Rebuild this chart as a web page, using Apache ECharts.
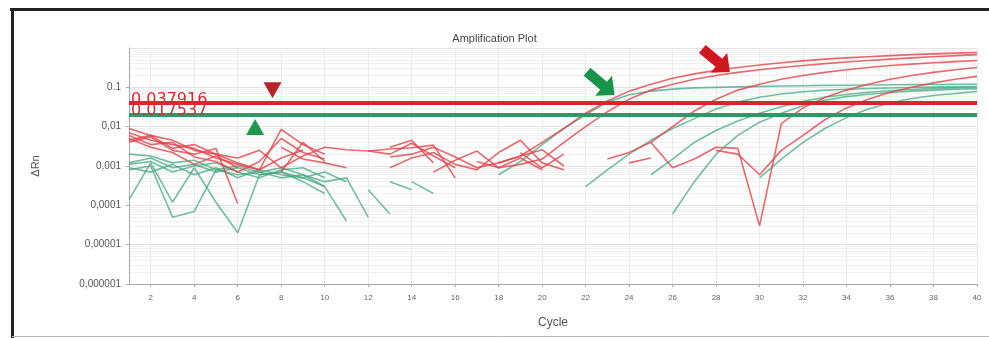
<!DOCTYPE html>
<html>
<head>
<meta charset="utf-8">
<script src="https://cdn.jsdelivr.net/npm/echarts@6/dist/echarts.min.js"></script>
<style>
  html, body { margin: 0; padding: 0; background: #fff; }
  #chart { width: 989px; height: 338px; }
</style>
</head>
<body>
<div id="chart"></div>
<script>
// 数据
var cycles = [1,2,3,4,5,6,7,8,9,10,11,12,13,14,15,16,17,18,19,20,
              21,22,23,24,25,26,27,28,29,30,31,32,33,34,35,36,37,38,39,40];
var xTickValues = [2,4,6,8,10,12,14,16,18,20,22,24,26,28,30,32,34,36,38,40];
var yTickLabels = ['0,000001','0,00001','0,0001','0,001','0,01','0.1',''];

var thresholdRed = 0.037916;
var thresholdGreen = 0.017537;

// 红色样本
var red1 = [0.007,0.0045,0.0035,0.0028,0.0016,0.0011,0.0008,0.0016,0.0025,null,
            null,0.0024,0.0027,0.0029,0.0034,0.0005,null,0.0012,0.0018,0.004,
            0.009,0.022,0.045,0.08,0.12,0.17,0.22,0.27,0.32,0.37,
            0.42,0.47,0.52,0.56,0.6,0.64,0.68,0.71,0.74,0.77];
var red2 = [0.004,0.0055,0.0025,0.002,0.0028,0.00011,null,0.003,0.0015,0.0012,
            0.0009,null,0.003,0.0045,0.0012,null,0.0013,0.0009,0.0011,0.0015,
            0.004,0.01,0.024,0.05,0.085,0.12,0.16,0.2,0.24,0.28,
            0.32,0.36,0.4,0.44,0.48,0.52,0.56,0.6,0.64,0.68];
var red3 = [0.005,0.003,0.0022,0.0011,0.0018,0.0009,null,0.0007,0.004,0.0013,
            null,null,0.0017,0.002,0.003,0.0017,0.0009,0.0012,0.0018,0.0026,
            0.001,null,0.0015,0.0022,0.004,0.01,0.025,0.05,0.085,0.12,
            0.16,0.2,0.24,0.28,0.32,0.36,0.39,0.42,0.45,0.48];
var red4 = [0.006,0.0035,0.004,0.0017,0.0013,0.0007,0.0013,0.005,0.0022,0.0015,
            null,null,null,null,0.0007,0.0014,0.0024,0.0009,0.0016,0.0008,
            null,null,null,null,0.004,0.0009,0.0015,0.003,0.0028,0.00003,
            0.012,0.03,0.055,0.085,0.12,0.16,0.2,0.24,0.28,0.32];
var red5 = [0.0045,0.006,0.0028,0.0035,0.002,0.0016,0.0025,0.0009,0.0018,0.003,
            0.0026,0.0024,0.002,0.0038,0.0018,0.0009,null,null,0.0022,0.0009,
            0.002,null,null,0.0012,0.0016,null,null,0.0025,0.002,0.0006,
            0.0025,0.006,0.015,0.03,0.05,0.075,0.1,0.13,0.16,0.19];
var red6 = [0.009,0.006,0.0045,0.0025,0.002,0.0012,0.0008,0.0085,0.0035,0.002,
            null,null,0.0009,0.0016,0.0022,0.0011,0.0008,0.0022,0.0045,0.0012,
            0.0008,null,null,null,null,null,null,null,null,null,
            null,null,null,null,null,null,null,null,null,null];

// 绿色样本
var green1 = [0.0012,0.0016,0.0009,0.0011,0.0007,0.0009,0.0006,0.0007,0.0005,0.0003,
              0.00004,null,null,null,null,null,null,0.0006,0.0013,0.0035,
              0.009,0.02,0.042,0.065,0.08,0.09,0.097,0.1,0.103,0.106,
              0.108,0.11,0.112,0.113,0.115,0.116,0.117,0.118,0.119,0.12];
var green2 = [0.002,0.0018,0.0012,0.0014,0.0008,0.001,0.0007,0.0009,0.0006,0.0004,
              0.0005,0.00005,null,null,null,null,null,null,null,null,
              null,0.0003,0.0008,0.002,0.0045,0.009,0.016,0.028,0.042,0.056,
              0.068,0.077,0.084,0.089,0.093,0.096,0.099,0.101,0.103,0.105];
var green3 = [0.00014,0.0012,0.00012,0.0009,0.00012,0.00002,0.0006,0.0007,0.0004,0.0002,
              null,0.00025,0.00006,null,null,null,null,null,null,null,
              null,null,null,null,null,0.00006,0.0004,0.002,0.006,0.013,
              0.022,0.034,0.047,0.058,0.067,0.074,0.08,0.085,0.089,0.092];
var green4 = [0.0008,0.001,0.00005,0.00007,0.0008,0.0006,0.0007,0.0005,0.0006,0.0003,
              null,null,0.0004,0.00025,null,null,null,null,null,null,
              null,null,null,null,null,null,null,null,null,0.0005,
              0.0015,0.004,0.009,0.017,0.028,0.04,0.052,0.062,0.07,0.078];
var green5 = [0.0011,0.0013,0.0007,0.001,0.0012,0.0007,0.0005,0.0008,0.0009,0.0005,
              null,null,null,0.0004,0.0002,null,null,null,null,null,
              null,null,null,null,0.0006,0.0015,0.004,0.008,0.014,0.022,
              0.032,0.044,0.056,0.066,0.075,0.082,0.088,0.093,0.097,0.1];
var green6 = [0.0009,0.0007,0.0011,0.0006,0.0009,0.0005,0.0008,0.0006,0.0005,0.0007,
              0.0004,null,null,null,null,null,null,null,null,null,
              null,null,null,null,null,null,null,null,null,null,
              null,null,null,null,null,null,null,null,null,null];

var redSamples = [red1, red2, red3, red4, red5, red6];
var greenSamples = [green1, green2, green3, green4, green5, green6];

var RED = '#e2424a';
var GREEN = '#44a882';

function toPairs(values) {
    return cycles.map(function (c, i) {
        return [c, values[i]];
    });
}

var series = [];
greenSamples.forEach(function (vals, i) {
    series.push({
        name: 'green' + (i + 1),
        type: 'line',
        data: toPairs(vals),
        symbol: 'none',
        connectNulls: false,
        lineStyle: { color: GREEN, width: 1.6, opacity: 0.75 },
        z: 2
    });
});
redSamples.forEach(function (vals, i) {
    series.push({
        name: 'red' + (i + 1),
        type: 'line',
        data: toPairs(vals),
        symbol: 'none',
        connectNulls: false,
        lineStyle: { color: RED, width: 1.6, opacity: 0.8 },
        z: 3
    });
});

// 阈值线 + 标记
var arrowPath = 'path://M0,3 L6,3 L6,0 L10,5 L6,10 L6,7 L0,7 Z';
series.push({
    name: 'threshold',
    type: 'line',
    data: [],
    z: 5,
    markLine: {
        silent: true,
        symbol: 'none',
        animation: false,
        data: [
            {
                yAxis: thresholdRed,
                lineStyle: { color: '#d8262c', width: 4, type: 'solid', opacity: 1 },
                label: {
                    show: true, position: 'insideStartTop', distance: [2, -5],
                    formatter: '0.037916', color: '#e0262c',
                    fontSize: 16, fontFamily: 'DejaVu Sans'
                }
            },
            {
                yAxis: thresholdGreen,
                lineStyle: { color: '#2a9a66', width: 4, type: 'solid', opacity: 1 },
                label: {
                    show: true, position: 'insideStartTop', distance: [2, -4],
                    formatter: '0.017537', color: '#c8333a',
                    fontSize: 16, fontFamily: 'DejaVu Sans'
                }
            }
        ]
    },
    markPoint: {
        silent: true,
        animation: false,
        label: { show: false },
        data: [
            { coord: [7.6, 0.084], symbol: 'triangle', symbolRotate: 180, symbolSize: [18, 16],
              itemStyle: { color: '#b8232a' } },
            { coord: [6.8, 0.0098], symbol: 'triangle', symbolSize: [18, 16],
              itemStyle: { color: '#1d9a4e' } },
            { coord: [22.7, 0.126], symbol: arrowPath, symbolRotate: -40, symbolSize: [36, 26],
              itemStyle: { color: '#17944a' } },
            { coord: [28.0, 0.48], symbol: arrowPath, symbolRotate: -40, symbolSize: [36, 26],
              itemStyle: { color: '#d0161f' } }
        ]
    }
});

var myChart = echarts.init(document.getElementById('chart'));

var option = {
    backgroundColor: '#fff',
    animation: false,
    title: {
        text: 'Amplification Plot',
        left: 'center',
        top: 28,
        textStyle: { fontSize: 11, fontWeight: 'normal', color: '#444', fontFamily: 'Liberation Sans' }
    },
    graphic: [
        { type: 'line', shape: { x1: 10, y1: 9.5, x2: 989, y2: 9.5 }, style: { stroke: '#222', lineWidth: 3 } },
        { type: 'line', shape: { x1: 12.5, y1: 8, x2: 12.5, y2: 338 }, style: { stroke: '#222', lineWidth: 3 } },
        { type: 'line', shape: { x1: 12, y1: 336.5, x2: 989, y2: 336.5 }, style: { stroke: '#bbb', lineWidth: 1 } }
    ],
    grid: { left: 129, right: 12, top: 48, bottom: 54 },
    xAxis: {
        type: 'value',
        min: 1,
        max: 40,
        interval: 1,
        name: 'Cycle',
        nameLocation: 'middle',
        nameGap: 33,
        nameTextStyle: { fontSize: 12, color: '#555', fontFamily: 'Liberation Sans' },
        axisLine: { lineStyle: { color: '#aaa' } },
        axisTick: { show: true, customValues: xTickValues, length: 3, lineStyle: { color: '#aaa' } },
        axisLabel: { customValues: xTickValues, fontSize: 8, color: '#666', margin: 10 },
        splitLine: { show: true, lineStyle: { color: '#eaeaea', width: 1 } }
    },
    yAxis: {
        type: 'log',
        logBase: 10,
        min: 0.000001,
        max: 1,
        name: 'ΔRn',
        nameLocation: 'middle',
        nameGap: 88,
        nameRotate: 90,
        nameTextStyle: { fontSize: 11, color: '#555', fontFamily: 'Liberation Sans' },
        axisLine: { show: true, lineStyle: { color: '#aaa' } },
        axisTick: { show: true, length: 3, lineStyle: { color: '#aaa' } },
        axisLabel: {
            fontSize: 10,
            color: '#555',
            margin: 8,
            showMaxLabel: false,
            formatter: function (v) {
                var idx = Math.round(Math.log10(v)) + 6;
                return yTickLabels[idx] || '';
            }
        },
        splitLine: { show: true, lineStyle: { color: '#e2e2e2' } },
        minorTick: { show: false, splitNumber: 9 },
        minorSplitLine: { show: true, lineStyle: { color: '#f0f0f0' } }
    },
    series: series
};

myChart.setOption(option);
</script>
</body>
</html>
